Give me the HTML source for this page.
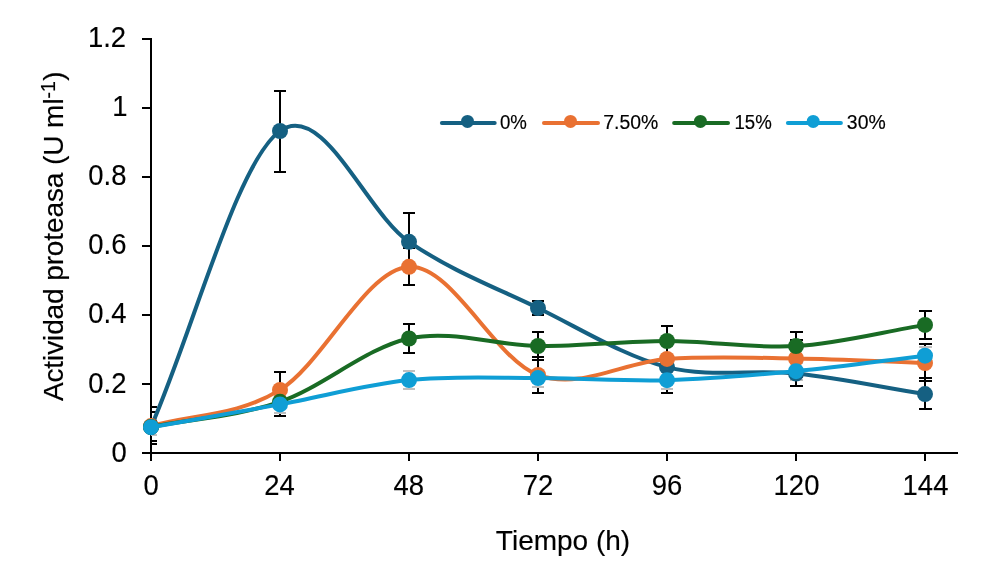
<!DOCTYPE html>
<html lang="es">
<head>
<meta charset="utf-8">
<title>Actividad proteasa</title>
<style>
html,body{margin:0;padding:0;background:#fff;}
body{width:993px;height:581px;overflow:hidden;}
svg{display:block;}
text{font-family:"Liberation Sans",Arial,sans-serif;fill:#000;stroke:#000;stroke-width:0.15px;stroke-linejoin:round;}
.tick{font-size:28px;}
.title{font-size:28px;}
.leg{font-size:18.67px;}
</style>
</head>
<body>
<svg width="993" height="581" viewBox="0 0 993 581">
<rect width="993" height="581" fill="#fff"/>
<defs><clipPath id="plot"><rect x="151" y="0" width="842" height="453"/></clipPath></defs>
<g stroke="#000" stroke-width="2" fill="none">
<path d="M151 38 V461"/>
<path d="M142 453 H958"/>
<path d="M142 384 H151"/>
<path d="M142 315 H151"/>
<path d="M142 246 H151"/>
<path d="M142 177 H151"/>
<path d="M142 108 H151"/>
<path d="M142 39 H151"/>
<path d="M280 453 V461"/>
<path d="M409 453 V461"/>
<path d="M538 453 V461"/>
<path d="M667 453 V461"/>
<path d="M796 453 V461"/>
<path d="M925 453 V461"/>
</g>
<g class="tick" text-anchor="end">
<text transform="translate(126.8 461.9) scale(0.98 1.04)">0</text>
<text transform="translate(126.4 392.9) scale(0.98 1.04)">0.2</text>
<text transform="translate(126.4 322.9) scale(0.98 1.04)">0.4</text>
<text transform="translate(126.4 253.9) scale(0.98 1.04)">0.6</text>
<text transform="translate(126.4 184.9) scale(0.98 1.04)">0.8</text>
<text transform="translate(127.4 115.9) scale(0.98 1.04)">1</text>
<text transform="translate(126.1 46.9) scale(0.98 1.04)">1.2</text>
</g>
<g class="tick" text-anchor="middle">
<text transform="translate(151 495.4) scale(0.98 1.04)">0</text>
<text transform="translate(279.5 495.4) scale(0.98 1.04)">24</text>
<text transform="translate(408.8 495.4) scale(0.98 1.04)">48</text>
<text transform="translate(538 495.4) scale(0.98 1.04)">72</text>
<text transform="translate(667 495.4) scale(0.98 1.04)">96</text>
<text transform="translate(796.5 495.4) scale(0.98 1.04)">120</text>
<text transform="translate(925.5 495.4) scale(0.98 1.04)">144</text>
</g>
<text class="title" transform="translate(563 549.7)" text-anchor="middle">Tiempo (h)</text>
<text class="title" transform="translate(63.1 401.1) rotate(-90)"><tspan letter-spacing="-0.11">Actividad proteasa (U</tspan> ml<tspan font-size="19.5px" dy="-8.4">-1</tspan><tspan dy="8.4" dx="0.4">)</tspan></text>
<g clip-path="url(#plot)" fill="none" stroke-width="2">
<path stroke="#000" d="M151 421V432M145 421H157M145 432H157M280 91V172M274 91H286M274 172H286M409 213V271M403 213H415M403 271H415M538 301V315M532 301H544M532 315H544M667 341V393M661 341H673M661 393H673M796 359V386M790 359H803M790 386H803M925 378V409M919 378H932M919 409H932"/>
<path stroke="#000" d="M151 407V444M145 407H157M145 444H157M280 372V408M274 372H286M274 408H286M409 248V285M403 248H415M403 285H415M538 357V393M532 357H544M532 393H544M667 341V377M661 341H673M661 377H673M796 340V377M790 340H803M790 377H803M925 344V381M919 344H932M919 381H932"/>
<path stroke="#000" d="M151 412V441M145 412H157M145 441H157M280 388V416M274 388H286M274 416H286M409 324V353M403 324H415M403 353H415M538 332V360M532 332H544M532 360H544M667 326V356M661 326H673M661 356H673M796 332V360M790 332H803M790 360H803M925 311V339M919 311H932M919 339H932"/>
<path stroke="#BFBFBF" d="M151 419V435M145 419H157M145 435H157M280 396V413M274 396H286M274 413H286M409 371V389M403 371H415M403 389H415M538 371V387M532 371H544M532 387H544M667 371V389M661 371H673M661 389H673M796 363V380M790 363H803M790 380H803M925 347V365M919 347H932M919 365H932"/>
</g>
<g>
<path d="M151 427 C194 328.33 237 161.87 280 131 C323 100.13 366 212.29 409 241.8 C452 271.31 495 287.17 538 308.05 C581 328.93 624 356.19 667 367.1 C710 378.01 753 369 796 373.5 C839 378 882 387.23 925 394.1" fill="none" stroke="#156082" stroke-width="4" stroke-linecap="round" stroke-linejoin="round"/>
<g fill="#156082"><circle cx="151" cy="427" r="8"/><circle cx="280" cy="131" r="8"/><circle cx="409" cy="241.8" r="8"/><circle cx="538" cy="308.05" r="8"/><circle cx="667" cy="367.1" r="8"/><circle cx="796" cy="373.5" r="8"/><circle cx="925" cy="394.1" r="8"/></g>
</g>
<g>
<path d="M151 426.1 C194 414.03 237 416.45 280 389.9 C323 363.35 366 269.28 409 266.8 C452 264.32 495 359.65 538 375 C581 390.35 624 361.65 667 358.9 C710 356.15 753 357.82 796 358.5 C839 359.18 882 361.5 925 363" fill="none" stroke="#E97132" stroke-width="4" stroke-linecap="round" stroke-linejoin="round"/>
<g fill="#E97132"><circle cx="151" cy="426.1" r="8"/><circle cx="280" cy="389.9" r="8"/><circle cx="409" cy="266.8" r="8"/><circle cx="538" cy="375" r="8"/><circle cx="667" cy="358.9" r="8"/><circle cx="796" cy="358.5" r="8"/><circle cx="925" cy="363" r="8"/></g>
</g>
<g>
<path d="M151 426.9 C194 418.53 237 416.53 280 401.8 C323 387.07 366 347.8 409 338.5 C452 329.2 495 345.58 538 346 C581 346.42 624 340.98 667 341 C710 341.02 753 348.78 796 346.1 C839 343.42 882 331.97 925 324.9" fill="none" stroke="#196B24" stroke-width="4" stroke-linecap="round" stroke-linejoin="round"/>
<g fill="#196B24"><circle cx="151" cy="426.9" r="8"/><circle cx="280" cy="401.8" r="8"/><circle cx="409" cy="338.5" r="8"/><circle cx="538" cy="346" r="8"/><circle cx="667" cy="341" r="8"/><circle cx="796" cy="346.1" r="8"/><circle cx="925" cy="324.9" r="8"/></g>
</g>
<g>
<path d="M151 427.2 C194 419.6 237 412.25 280 404.4 C323 396.55 366 384.48 409 380.1 C452 375.72 495 378.08 538 378.1 C581 378.12 624 381.35 667 380.2 C710 379.05 753 375.28 796 371.2 C839 367.12 882 360.87 925 355.7" fill="none" stroke="#0F9ED5" stroke-width="4" stroke-linecap="round" stroke-linejoin="round"/>
<g fill="#0F9ED5"><circle cx="151" cy="427.2" r="8"/><circle cx="280" cy="404.4" r="8"/><circle cx="409" cy="380.1" r="8"/><circle cx="538" cy="378.1" r="8"/><circle cx="667" cy="380.2" r="8"/><circle cx="796" cy="371.2" r="8"/><circle cx="925" cy="355.7" r="8"/></g>
</g>
<g class="leg">
<path d="M441.9 123H494.7" stroke="#156082" stroke-width="4" stroke-linecap="round" fill="none"/>
<circle cx="467.5" cy="121.4" r="6.5" fill="#156082"/>
<text transform="translate(500 128.8) scale(1 1.05)">0%</text>
<path d="M543.95 123H598" stroke="#E97132" stroke-width="4" stroke-linecap="round" fill="none"/>
<circle cx="570.5" cy="121.4" r="6.5" fill="#E97132"/>
<text transform="translate(603.2 128.8) scale(1.04 1.05)">7.50%</text>
<path d="M674.15 123H728" stroke="#196B24" stroke-width="4" stroke-linecap="round" fill="none"/>
<circle cx="700.4" cy="121.4" r="6.5" fill="#196B24"/>
<text transform="translate(734.5 128.8) scale(1 1.05)">15%</text>
<path d="M787.9 123H840.9" stroke="#0F9ED5" stroke-width="4" stroke-linecap="round" fill="none"/>
<circle cx="813.2" cy="121.4" r="6.5" fill="#0F9ED5"/>
<text transform="translate(846.85 128.8) scale(1.04 1.05)">30%</text>
</g>
</svg>
</body>
</html>
